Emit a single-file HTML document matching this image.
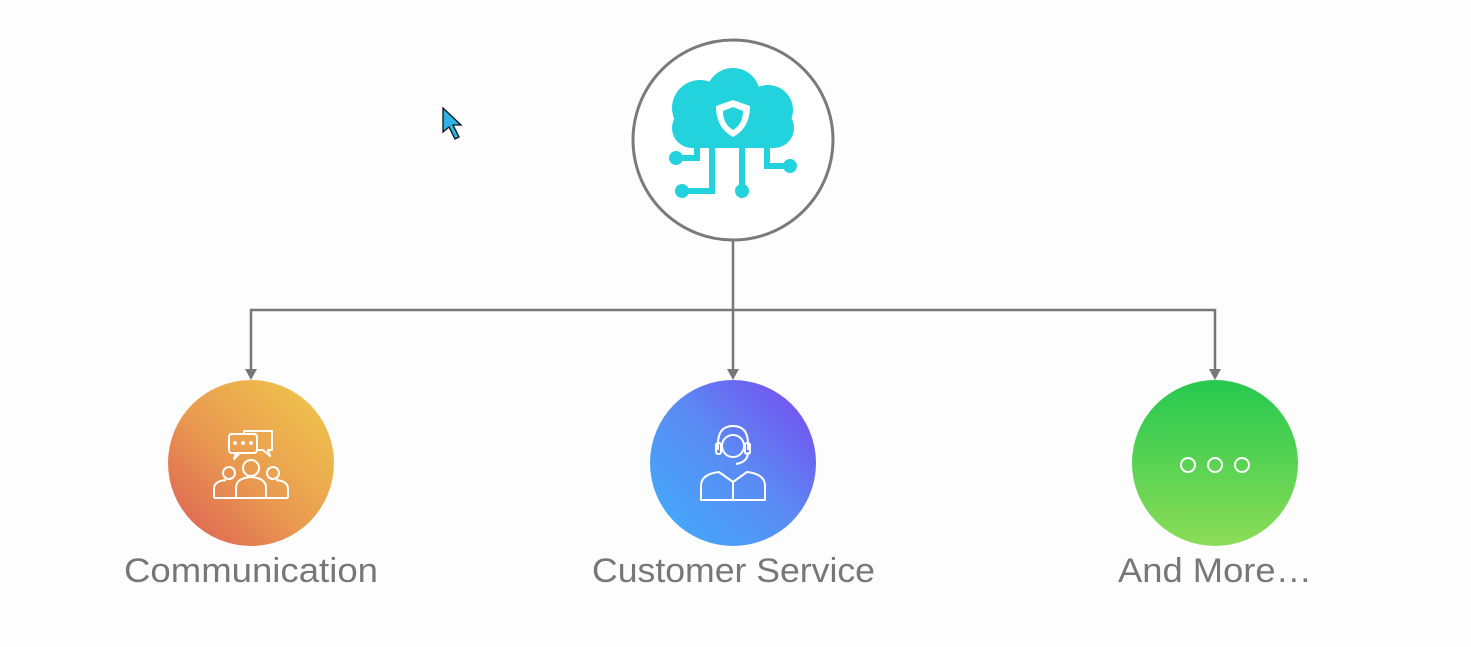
<!DOCTYPE html>
<html><head><style>html,body{margin:0;padding:0;background:#fdfdfd;}svg{display:block}</style></head>
<body>
<svg width="1471" height="647" viewBox="0 0 1471 647" xmlns="http://www.w3.org/2000/svg">
<defs>
<linearGradient id="g1" x1="0" y1="1" x2="1" y2="0"><stop offset="0" stop-color="#dc5a55"/><stop offset="0.45" stop-color="#e99a50"/><stop offset="1" stop-color="#f0cc4c"/></linearGradient>
<linearGradient id="g2" x1="0" y1="1" x2="1" y2="0"><stop offset="0" stop-color="#3eaefc"/><stop offset="0.5" stop-color="#5a8cf4"/><stop offset="1" stop-color="#7a45ee"/></linearGradient>
<linearGradient id="g3" x1="0" y1="0" x2="0" y2="1"><stop offset="0" stop-color="#25c94f"/><stop offset="1" stop-color="#8cdc57"/></linearGradient>
</defs>
<rect width="1471" height="647" fill="#fdfdfd"/>
<g stroke="#777" stroke-width="2.5" fill="none">
<line x1="733" y1="240" x2="733" y2="372"/>
<polyline points="251,372 251,310 1215,310 1215,372"/>
</g>
<g fill="#777">
<polygon points="245,369 257,369 251,380"/>
<polygon points="727,369 739,369 733,380"/>
<polygon points="1209,369 1221,369 1215,380"/>
</g>
<circle cx="733" cy="140" r="100" fill="#fff" stroke="#7a7a7a" stroke-width="3"/>
<g fill="#22d3de">
<circle cx="700" cy="108" r="28"/><circle cx="733" cy="95" r="27"/><circle cx="768" cy="110" r="25"/>
<rect x="672" y="108" width="122" height="40" rx="20"/>
</g>
<path d="M733 100 L750 106 Q750 128 733 137 Q716 128 716 106 Z" fill="#fff"/>
<path d="M733 107 L743 111 Q743 124 733 130 Q723 124 723 111 Z" fill="#22d3de"/>
<g stroke="#22d3de" stroke-width="6" fill="none">
<polyline points="697,145 697,158 676,158"/>
<polyline points="712,145 712,191 682,191"/>
<line x1="742" y1="145" x2="742" y2="190"/>
<polyline points="767,145 767,166 788,166"/>
</g>
<g fill="#22d3de"><circle cx="676" cy="158" r="7"/><circle cx="682" cy="191" r="7"/><circle cx="742" cy="191" r="7"/><circle cx="790" cy="166" r="7"/></g>
<circle cx="251" cy="463" r="83" fill="url(#g1)"/>
<circle cx="733" cy="463" r="83" fill="url(#g2)"/>
<circle cx="1215" cy="463" r="83" fill="url(#g3)"/>
<g stroke="#fff" stroke-width="2" fill="none" stroke-linejoin="round">
<rect x="229" y="434" width="28" height="19" rx="3"/>
<path d="M244 434 V431 h28 v19 h-4 l2 6 -7-6 h-6"/>
<path d="M236 453 l-2 6 6-6"/>
<circle cx="251" cy="468" r="8"/><circle cx="229" cy="473" r="6"/><circle cx="273" cy="473" r="6"/>
<path d="M236 498 v-10 q0-10 15-11 q15 1 15 11 v10 z"/>
<path d="M214 498 v-9 q0-8 12-9 M288 498 v-9 q0-8 -12-9 M214 498 h74"/>
<circle cx="733" cy="446" r="11"/>
<path d="M718 450 v-6 q0-18 15-18 q15 0 15 18 v6 M748 452 q0 10 -12 12"/>
<rect x="716" y="443" width="5" height="11" rx="2"/><rect x="745" y="443" width="5" height="11" rx="2"/>
<path d="M701 500 v-14 q0-12 18-14 l14 10 14-10 q18 2 18 14 v14 z M733 482 v18"/>
<circle cx="1188" cy="465" r="7"/><circle cx="1215" cy="465" r="7"/><circle cx="1242" cy="465" r="7"/>
</g>
<circle cx="235" cy="443" r="2" fill="#fff"/><circle cx="243" cy="443" r="2" fill="#fff"/><circle cx="251" cy="443" r="2" fill="#fff"/>
<path d="M443 108 L443 132 L449 127 L455 139 L459 137 L453 125 L461 125 Z" fill="#2bb3e6" stroke="#111" stroke-width="1.3"/>
<g font-family="Liberation Sans, sans-serif" font-size="34" fill="#777">
<text x="124" y="582" textLength="254" lengthAdjust="spacingAndGlyphs">Communication</text>
<text x="592" y="582" textLength="283" lengthAdjust="spacingAndGlyphs">Customer Service</text>
<text x="1118" y="582" textLength="194" lengthAdjust="spacingAndGlyphs">And More…</text>
</g>
</svg>
</body></html>
